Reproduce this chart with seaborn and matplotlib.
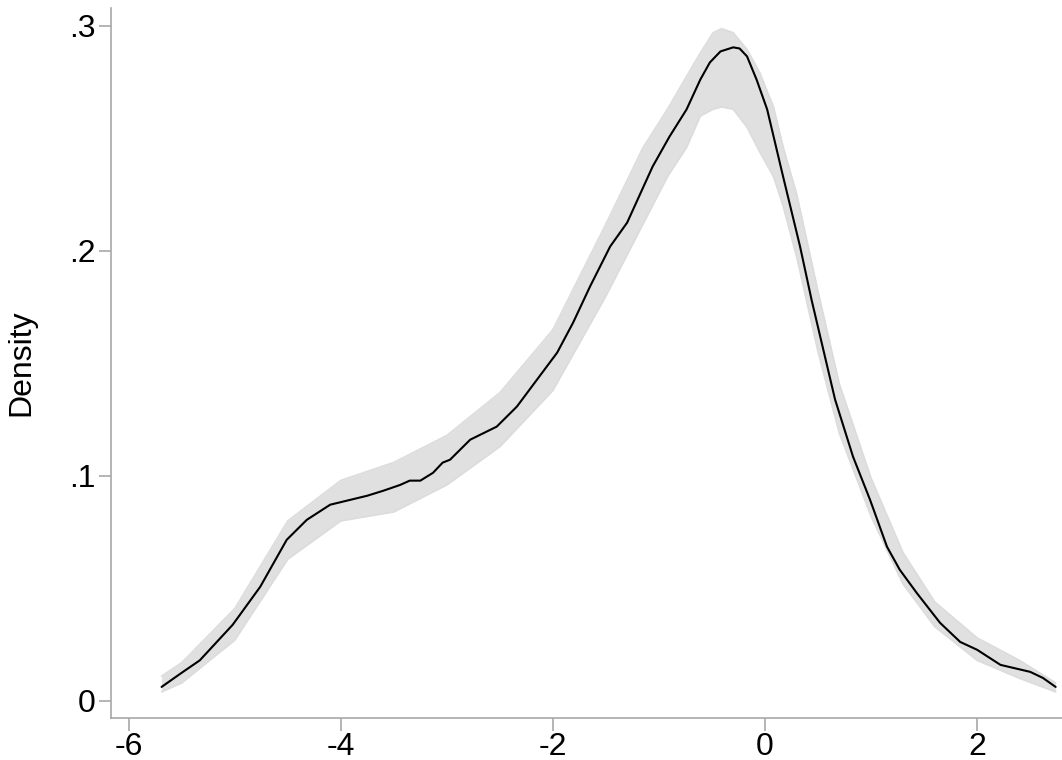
import numpy as np
import pandas as pd
import matplotlib
matplotlib.use("Agg")
import matplotlib.pyplot as plt
import seaborn as sns

obs_x = [-5.69, -5.50, -5.33, -5.02, -4.76, -4.51, -4.32, -4.10, -3.75, -3.60,
         -3.44, -3.35, -3.25, -3.13, -3.04, -2.97, -2.78, -2.53, -2.34, -2.15,
         -1.96, -1.81, -1.65, -1.46, -1.30, -1.06, -0.90, -0.74, -0.61, -0.52,
         -0.42, -0.30, -0.24, -0.17, -0.08, 0.02, 0.17, 0.33, 0.44, 0.66,
         0.83, 0.99, 1.15, 1.27, 1.43, 1.65, 1.84, 2.00, 2.22, 2.50, 2.62, 2.74]
obs_y = [0.0062, 0.0125, 0.0180, 0.0338, 0.0507, 0.0716, 0.0805, 0.0872, 0.0912, 0.0934,
         0.0960, 0.0979, 0.0979, 0.1014, 0.1059, 0.1072, 0.1161, 0.1219, 0.1308, 0.1428,
         0.1548, 0.1681, 0.1842, 0.2020, 0.2126, 0.2375, 0.2509, 0.2629, 0.2762, 0.2838,
         0.2887, 0.2905, 0.2900, 0.2865, 0.2762, 0.2629, 0.2331, 0.2020, 0.1780, 0.1340,
         0.1085, 0.0894, 0.0685, 0.0583, 0.0480, 0.0347, 0.0262, 0.0227, 0.0160, 0.0129, 0.0102, 0.0062]

### Imputed densities (gray band): envelope of the imputation curves
imp_x = [-5.69, -5.50, -5.00, -4.50, -4.00, -3.50, -3.00, -2.50, -2.00, -1.50,
         -1.15, -0.92, -0.74, -0.61, -0.49, -0.41, -0.30, -0.17, -0.05, 0.08,
         0.17, 0.30, 0.50, 0.70, 1.00, 1.30, 1.60, 2.00, 2.40, 2.74]
imp_lo = [0.004, 0.008, 0.027, 0.063, 0.080, 0.084, 0.096, 0.113, 0.138, 0.180,
          0.212, 0.233, 0.246, 0.260, 0.263, 0.264, 0.263, 0.255, 0.244, 0.233,
          0.220, 0.197, 0.155, 0.119, 0.082, 0.052, 0.033, 0.018, 0.010, 0.004]
imp_hi = [0.011, 0.017, 0.041, 0.080, 0.098, 0.106, 0.118, 0.137, 0.165, 0.212,
          0.246, 0.263, 0.2776, 0.288, 0.297, 0.2988, 0.297, 0.2896, 0.2793, 0.264,
          0.2464, 0.225, 0.182, 0.141, 0.099, 0.066, 0.044, 0.028, 0.018, 0.008]

y_ticks = [0, 0.1, 0.2, 0.3]
y_tick_labels = ["0", ".1", ".2", ".3"]
x_ticks = [-6, -4, -2, 0, 2]

sns.set_style("ticks")
plt.rcParams['font.family'] = ['Liberation Sans', 'DejaVu Sans']

fig = plt.figure(figsize=(10.62, 7.6), dpi=100)
ax = fig.add_axes([0.1042, 0.0553, 0.8958, 0.9342])

band_col = "#e0e0e0"
imp_df = pd.DataFrame({"x": imp_x, "lo": imp_lo, "hi": imp_hi})
ax.fill_between(imp_df["x"], imp_df["lo"], imp_df["hi"], color=band_col, lw=0)
sns.lineplot(data=imp_df, x="x", y="lo", color="#dcdcdc", lw=1.2, ax=ax)
sns.lineplot(data=imp_df, x="x", y="hi", color="#dcdcdc", lw=1.2, ax=ax)

obs_df = pd.DataFrame({"x": obs_x, "y": obs_y})
sns.lineplot(data=obs_df, x="x", y="y", color="black", lw=1.5, ax=ax)

ax.set_xlim(-6.17, 2.80)
ax.set_ylim(-0.0076, 0.308)
ax.set_xticks(x_ticks)
ax.set_xticklabels([str(t) for t in x_ticks])
ax.set_yticks(y_ticks)
ax.set_yticklabels(y_tick_labels)
ax.set_xlabel("")
ax.set_ylabel("Density", fontsize=23, color="black")
ax.yaxis.set_label_coords(-0.078, 0.5)

sns.despine(ax=ax)
for side in ["left", "bottom"]:
    ax.spines[side].set_color("#a8a8a8")
    ax.spines[side].set_linewidth(1.2)
ax.tick_params(axis="both", colors="#a8a8a8", length=9, width=1.2, labelsize=23,
               labelcolor="black", pad=2)
ax.tick_params(axis="x", pad=1)

fig.savefig("out.png", dpi=100)
